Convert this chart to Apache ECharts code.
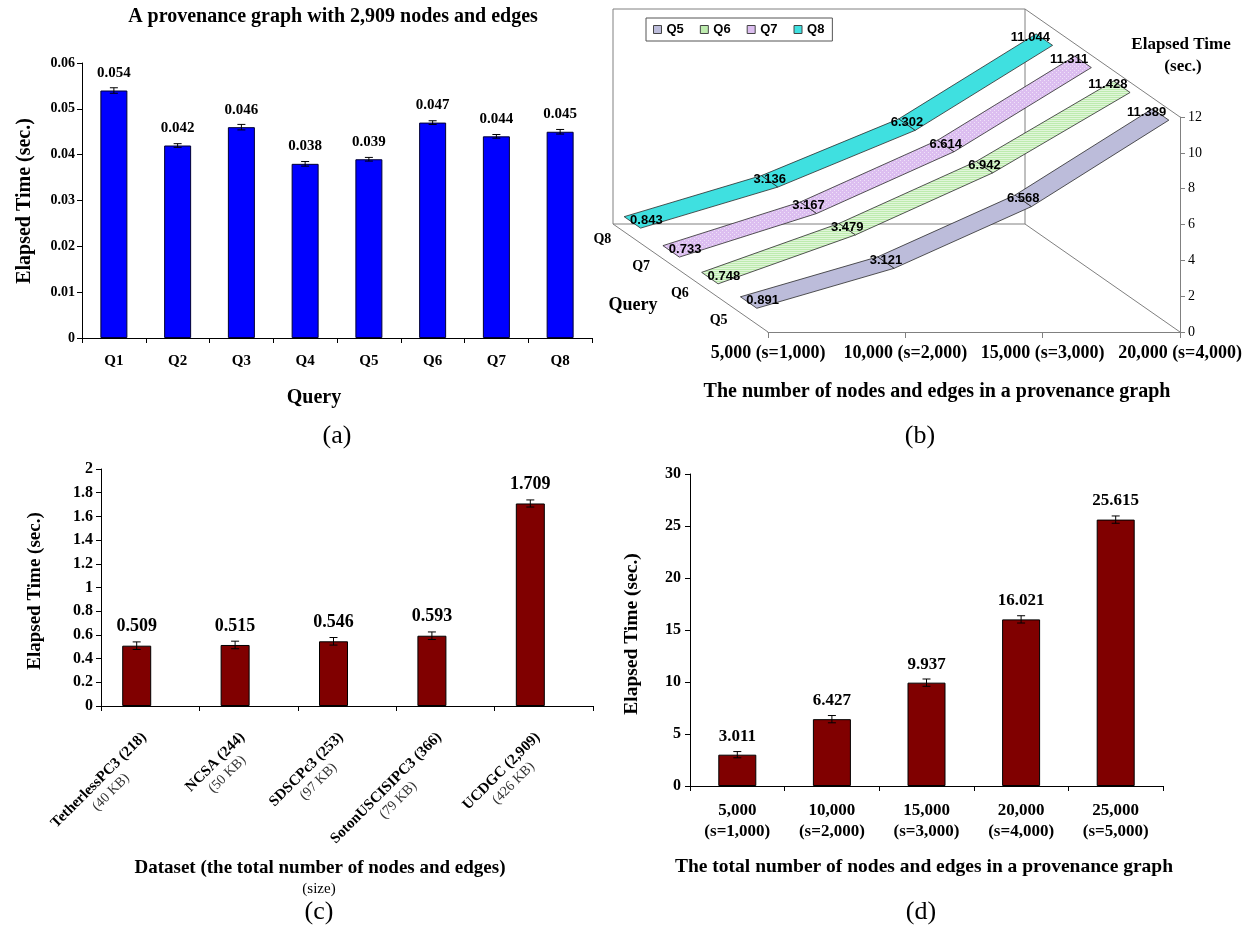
<!DOCTYPE html>
<html><head><meta charset="utf-8">
<script src="https://cdn.jsdelivr.net/npm/echarts@6/dist/echarts.min.js"></script>
<style>html,body{margin:0;padding:0;background:#fff}#c{width:1259px;height:929px}</style>
</head><body><div id="c"></div><script>
const SERIF = '"Liberation Serif","Times New Roman",serif';
const SANS = '"Liberation Sans",Arial,sans-serif';

// ---- (a) ----
const aCategories = ['Q1','Q2','Q3','Q4','Q5','Q6','Q7','Q8'];
const aValues = [0.054,0.042,0.046,0.038,0.039,0.047,0.044,0.045];
const aErrors = [0.0006,0.0004,0.0006,0.0005,0.0004,0.0004,0.0004,0.0005];

// ---- (b) ----
const bCategories = ['5,000 (s=1,000)','10,000 (s=2,000)','15,000 (s=3,000)','20,000 (s=4,000)'];
const bQueries = ['Q5','Q6','Q7','Q8'];
const bQ5 = [0.891,3.121,6.568,11.389];
const bQ6 = [0.748,3.479,6.942,11.428];
const bQ7 = [0.733,3.167,6.614,11.311];
const bQ8 = [0.843,3.136,6.302,11.044];

// ---- (c) ----
const cDatasets = ['TetherlessPC3 (218)','NCSA (244)','SDSCPc3 (253)','SotonUSCISIPC3 (366)','UCDGC (2,909)'];
const cSizes = ['(40 KB)','(50 KB)','(97 KB)','(79 KB)','(426 KB)'];
const cValues = [0.509,0.515,0.546,0.593,1.709];
const cErrors = [0.032,0.032,0.032,0.032,0.03];

// ---- (d) ----
const dCategories = ['5,000','10,000','15,000','20,000','25,000'];
const dSizes = ['(s=1,000)','(s=2,000)','(s=3,000)','(s=4,000)','(s=5,000)'];
const dValues = [3.011,6.427,9.937,16.021,25.615];
const dErrors = [0.3,0.35,0.35,0.35,0.35];

// ---- styling / projection constants for the pseudo-3D panel ----
const bSeries = [bQ5,bQ6,bQ7,bQ8];
const DEPTH = [-155,-108];       // pixel vector from front plane to back wall
const RIB_HALF = 0.053;          // half ribbon depth (fraction of DEPTH)
const bColors = ['#BCBCDA','#BDEBAE','#DCBEF0','#3FE0E0'];
const LABEL_DX = [14,0,0,-14];

function makePattern(base, kind){
  const cv = document.createElement('canvas');
  cv.width = 4; cv.height = 4;
  const g = cv.getContext('2d');
  g.fillStyle = base; g.fillRect(0,0,4,4);
  g.fillStyle = 'rgba(255,255,255,0.55)';
  if (kind === 'stripe'){ g.fillRect(0,0,4,1); g.fillRect(0,2,4,1); }
  else { g.fillRect(0,0,1,1); g.fillRect(2,2,1,1); }
  return {image: cv, repeat: 'repeat'};
}
const bFills = [bColors[0], makePattern(bColors[1],'stripe'), makePattern(bColors[2],'dot'), bColors[3]];

const axisLineBlack = {show:true, lineStyle:{color:'#000', width:1}};
const tickBlack = {show:true, length:5, lineStyle:{color:'#000', width:1}};

function errorRenderer(offsetX, capHalf){
  return function(params, api){
    const i = api.value(0), v = api.value(1), e = api.value(2);
    const hi = api.coord([i, v + e]), lo = api.coord([i, v - e]);
    const x = hi[0] + offsetX;
    const st = {stroke:'#000', lineWidth:1};
    return {type:'group', children:[
      {type:'line', shape:{x1:x, y1:hi[1], x2:x, y2:lo[1]}, style:st},
      {type:'line', shape:{x1:x-capHalf, y1:hi[1], x2:x+capHalf, y2:hi[1]}, style:st},
      {type:'line', shape:{x1:x-capHalf, y1:lo[1], x2:x+capHalf, y2:lo[1]}, style:st}
    ]};
  };
}

function frameRenderer(params, api){
  const o = api.coord([0,0]), r = api.coord([bCategories.length-1,0]);
  const t = api.coord([bCategories.length-1,12]), tl = api.coord([0,12]);
  const add = (p,f) => [p[0]+DEPTH[0]*f, p[1]+DEPTH[1]*f];
  const bo = add(o,1), br = add(r,1), bt = add(t,1), btl = add(tl,1);
  const st = {stroke:'#808080', lineWidth:1, fill:null};
  return {type:'group', children:[
    {type:'rect', shape:{x:btl[0], y:btl[1], width:bt[0]-btl[0], height:bo[1]-btl[1]}, style:{stroke:'#808080', lineWidth:1, fill:'#fff'}},
    {type:'line', shape:{x1:o[0], y1:o[1], x2:bo[0], y2:bo[1]}, style:st},
    {type:'line', shape:{x1:r[0], y1:r[1], x2:br[0], y2:br[1]}, style:st},
    {type:'line', shape:{x1:t[0], y1:t[1], x2:bt[0], y2:bt[1]}, style:st}
  ]};
}

function ribbonRenderer(k){
  const vals = bSeries[k];
  const f = (k + 0.5) / bSeries.length;
  return function(params, api){
    const i = api.value(0);
    const p = api.coord([i, api.value(1)]);
    const fa = f - RIB_HALF, fb = f + RIB_HALF;
    const sh = (pt, ff) => [pt[0] + DEPTH[0]*ff, pt[1] + DEPTH[1]*ff];
    const children = [];
    if (i < vals.length - 1){
      const q = api.coord([i+1, vals[i+1]]);
      children.push({type:'polygon', shape:{points:[sh(p,fa), sh(q,fa), sh(q,fb), sh(p,fb)]},
        style:{fill:bFills[k], stroke:'#2a2a2a', lineWidth:0.8}});
    }
    const c = sh(p, f);
    children.push({type:'text', x:c[0] + LABEL_DX[i], y:c[1] - 2, z2:10,
      style:{text: vals[i].toFixed(3), font:'bold 13px ' + SANS, fill:'#000',
        align:'center', verticalAlign:'middle', textAlign:'center', textVerticalAlign:'middle'}});
    return {type:'group', children};
  };
}

function depthLabelRenderer(params, api){
  const k = api.value(2);
  const o = api.coord([0,0]);
  const f = (k + 0.5) / bSeries.length;
  return {type:'text', x:o[0] + DEPTH[0]*f - 30, y:o[1] + DEPTH[1]*f + 1.5,
    style:{text: bQueries[k], font:'bold 14px ' + SERIF, fill:'#000',
      align:'center', verticalAlign:'middle', textAlign:'center', textVerticalAlign:'middle'}};
}

function txt(text, x, y, font, rot){
  return {type:'text', x, y, rotation: rot || 0, z:100,
    style:{text, font, fill:'#000', align:'center', verticalAlign:'middle', textAlign:'center', textVerticalAlign:'middle'}};
}

const numFmt = d => v => String(+v.toFixed(d));

const option = {
  animation:false,
  backgroundColor:'#fff',
  legend:[{
    data: bQueries, left:646, top:18, orient:'horizontal', icon:'rect',
    itemWidth:8, itemHeight:8, itemGap:16, padding:[5,8,5,7], selectedMode:false,
    borderColor:'#555', borderWidth:1, backgroundColor:'#fff',
    itemStyle:{borderColor:'#444', borderWidth:1},
    textStyle:{fontFamily:SANS, fontWeight:'bold', fontSize:13, color:'#000'}
  }],
  grid:[
    {left:82, top:63, width:510, height:275},
    {left:768, top:117, width:412, height:215},
    {left:101, top:469, width:492, height:237},
    {left:690, top:474, width:473, height:312}
  ],
  xAxis:[
    {type:'category', gridIndex:0, data:aCategories, axisLine:axisLineBlack,
      axisTick:{show:true, length:5, interval:0, lineStyle:{color:'#000'}},
      axisLabel:{fontFamily:SERIF, fontWeight:'bold', fontSize:15, color:'#000', margin:16}},
    {type:'category', gridIndex:1, data:bCategories, boundaryGap:false,
      axisLine:{show:true, lineStyle:{color:'#808080'}},
      axisTick:{show:true, length:6, interval:0, lineStyle:{color:'#808080'}},
      axisLabel:{fontFamily:SERIF, fontWeight:'bold', fontSize:18, color:'#000', margin:12, interval:0}},
    {type:'category', gridIndex:2, data:cDatasets, axisLine:axisLineBlack,
      axisTick:{show:true, length:5, interval:0, lineStyle:{color:'#000'}},
      axisLabel:{rotate:45, interval:0, margin:35,
        formatter:(v,i) => '{b|' + v + '}\n{s|' + cSizes[i] + '}',
        rich:{b:{fontFamily:SERIF, fontWeight:'bold', fontSize:15, color:'#000', align:'center', lineHeight:17},
              s:{fontFamily:SERIF, fontSize:14, color:'#333', align:'center', lineHeight:17}}}},
    {type:'category', gridIndex:3, data:dCategories, axisLine:axisLineBlack,
      axisTick:{show:true, length:5, interval:0, lineStyle:{color:'#000'}},
      axisLabel:{interval:0, margin:14, lineHeight:21,
        formatter:(v,i) => v + '\n' + dSizes[i],
        fontFamily:SERIF, fontWeight:'bold', fontSize:17, color:'#000'}}
  ],
  yAxis:[
    {type:'value', gridIndex:0, min:0, max:0.06, interval:0.01, axisLine:axisLineBlack, axisTick:tickBlack,
      splitLine:{show:false}, axisLabel:{formatter:numFmt(3), fontFamily:SERIF, fontWeight:'bold', fontSize:14, color:'#000', margin:7}},
    {type:'value', gridIndex:1, min:0, max:12, interval:2, position:'right',
      axisLine:{show:true, lineStyle:{color:'#808080'}}, axisTick:{show:true, length:5, lineStyle:{color:'#808080'}},
      splitLine:{show:false}, axisLabel:{fontFamily:SERIF, fontSize:14, color:'#000', margin:8}},
    {type:'value', gridIndex:2, min:0, max:2, interval:0.2, axisLine:axisLineBlack, axisTick:tickBlack,
      splitLine:{show:false}, axisLabel:{formatter:numFmt(1), fontFamily:SERIF, fontWeight:'bold', fontSize:16, color:'#000', margin:8}},
    {type:'value', gridIndex:3, min:0, max:30, interval:5, axisLine:axisLineBlack, axisTick:tickBlack,
      splitLine:{show:false}, axisLabel:{fontFamily:SERIF, fontWeight:'bold', fontSize:16, color:'#000', margin:9}}
  ],
  series:[
    // (a)
    {type:'bar', name:'a', xAxisIndex:0, yAxisIndex:0, data:aValues, barWidth:27,
      itemStyle:{color:'#0000FF', borderColor:'#000033', borderWidth:1},
      label:{show:true, position:'top', distance:10, formatter:p => p.value.toFixed(3),
        fontFamily:SERIF, fontWeight:'bold', fontSize:15, color:'#000'}},
    {type:'custom', name:'aErr', xAxisIndex:0, yAxisIndex:0, z:5,
      data:aValues.map((v,i) => [i, v, aErrors[i]]), encode:{x:0, y:1},
      renderItem:errorRenderer(0, 4)},
    // (b)
    {type:'custom', name:'frame', xAxisIndex:1, yAxisIndex:1, z:1, silent:true,
      data:[[0,0]], encode:{x:0, y:1}, renderItem:frameRenderer},
    ...bQueries.map((q,k) => ({type:'custom', name:q, xAxisIndex:1, yAxisIndex:1,
      z: 3 + (bQueries.length - 1 - k), itemStyle:{color:bColors[k]},
      data: bSeries[k].map((v,i) => [i, v]), encode:{x:0, y:1},
      renderItem: ribbonRenderer(k)})).reverse(),
    {type:'custom', name:'depth', xAxisIndex:1, yAxisIndex:1, z:2,
      data: bQueries.map((q,k) => [0,0,k]), encode:{x:0, y:1},
      renderItem: depthLabelRenderer},
    // (c)
    {type:'bar', name:'c', xAxisIndex:2, yAxisIndex:2, data:cValues, barWidth:29, barGap:'-7%',
      itemStyle:{color:'#800000', borderColor:'#000', borderWidth:1},
      label:{show:true, position:'top', distance:10, formatter:p => p.value.toFixed(3),
        fontFamily:SERIF, fontWeight:'bold', fontSize:18, color:'#000'}},
    {type:'bar', name:'cPad', xAxisIndex:2, yAxisIndex:2, data:[], barWidth:29, barGap:'-7%'},
    {type:'custom', name:'cErr', xAxisIndex:2, yAxisIndex:2, z:5,
      data:cValues.map((v,i) => [i, v, cErrors[i]]), encode:{x:0, y:1},
      renderItem:errorRenderer(-13.5, 4)},
    // (d)
    {type:'bar', name:'d', xAxisIndex:3, yAxisIndex:3, data:dValues, barWidth:38,
      itemStyle:{color:'#800000', borderColor:'#000', borderWidth:1},
      label:{show:true, position:'top', distance:10, formatter:p => p.value.toFixed(3),
        fontFamily:SERIF, fontWeight:'bold', fontSize:17, color:'#000'}},
    {type:'custom', name:'dErr', xAxisIndex:3, yAxisIndex:3, z:5,
      data:dValues.map((v,i) => [i, v, dErrors[i]]), encode:{x:0, y:1},
      renderItem:errorRenderer(0, 4)}
  ],
  graphic:[
    txt('A provenance graph with 2,909 nodes and edges', 333, 17, 'bold 20px ' + SERIF),
    txt('Elapsed Time (sec.)', 25, 201, 'bold 20px ' + SERIF, Math.PI/2),
    txt('Query', 314, 398, 'bold 20px ' + SERIF),
    txt('(a)', 337, 436, '26px ' + SERIF),
    txt('Elapsed Time', 1181, 45, 'bold 17px ' + SERIF),
    txt('(sec.)', 1183, 67, 'bold 17px ' + SERIF),
    txt('Query', 633, 305, 'bold 18px ' + SERIF),
    txt('The number of nodes and edges in a provenance graph', 937, 392, 'bold 20px ' + SERIF),
    txt('(b)', 920, 436, '26px ' + SERIF),
    txt('Elapsed Time (sec.)', 35, 591, 'bold 19px ' + SERIF, Math.PI/2),
    txt('Dataset (the total number of nodes and edges)', 320, 868, 'bold 19px ' + SERIF),
    txt('(size)', 319, 889, '15px ' + SERIF),
    txt('(c)', 319, 912, '26px ' + SERIF),
    txt('Elapsed Time (sec.)', 632, 634, 'bold 19.5px ' + SERIF, Math.PI/2),
    txt('The total number of nodes and edges in a provenance graph', 924, 867, 'bold 19.5px ' + SERIF),
    txt('(d)', 921, 912, '26px ' + SERIF)
  ]
};
const chart = echarts.init(document.getElementById('c'), null, {renderer:'canvas'});
chart.setOption(option);
</script></body></html>
